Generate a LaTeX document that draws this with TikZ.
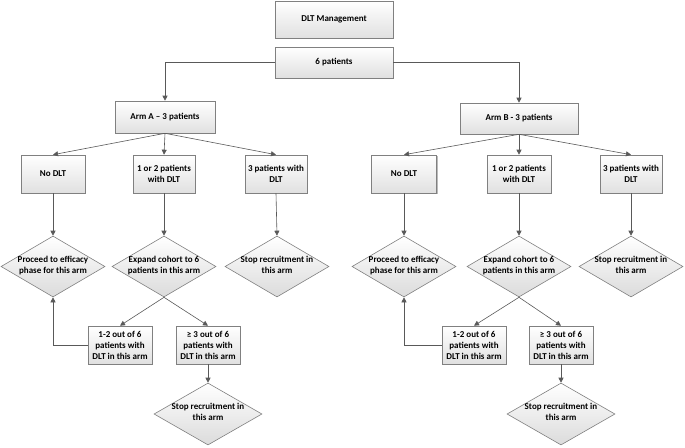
\documentclass[tikz,border=0pt]{standalone}
\usepackage{fontspec}
\setmainfont{Carlito}
\usetikzlibrary{shapes.geometric,shadows,arrows.meta}
\newcommand{\dtext}[1]{\raisebox{-2.5pt}{\smash{\makebox[0pt]{\begin{tabular}{@{}c@{}}#1\end{tabular}}}}}

\begin{document}
\begin{tikzpicture}[x=1pt,y=-1pt,>={Triangle[length=5pt,width=5pt]},
        font=\bfseries\fontsize{9}{11}\selectfont,
        box/.style={draw=black!50,line width=0.6pt,top color=white,bottom color=black!12,align=center,inner sep=1pt,
            drop shadow={shadow xshift=1.2pt,shadow yshift=-1.2pt,fill=black!45,opacity=.6}},
        dia/.style={diamond,draw=black!50,line width=0.6pt,top color=white,bottom color=black!14,inner sep=0pt,
            minimum width=104pt,minimum height=61pt},
        link/.style={draw=black!65,line width=0.6pt}]
            \useasboundingbox (0,0) rectangle (685,447);
            \node[box,minimum width=118pt,minimum height=37pt] (dlt) at (334,19.5) {DLT Management};
            \node[box,minimum width=118pt,minimum height=31pt] (six) at (334,62.5) {6 patients};
            \node[box,minimum width=100pt,minimum height=32pt] (armA) at (165,117) {Arm A – 3 patients};
            \node[box,minimum width=118pt,minimum height=31pt] (armB) at (519,118.5) {Arm B - 3 patients};

            \node[box,minimum width=64pt,minimum height=38pt] (noA) at (53,174) {No DLT};
            \node[box,minimum width=62pt,minimum height=38pt] (oneA) at (164,174) {1 or 2 patients\\with DLT};
            \node[box,minimum width=62pt,minimum height=38pt] (threeA) at (276,174) {3 patients with\\DLT};
            \node[dia] (proceedA) at (53,266.5) {\dtext{Proceed to efficacy\\phase for this arm}};
            \node[dia] (expandA) at (164,266.5) {\dtext{Expand cohort to 6\\patients in this arm}};
            \node[dia] (stopA) at (277,266.5) {\dtext{Stop recruitment in\\this arm}};
            \node[box,minimum width=64pt,minimum height=38pt] (lowA) at (120,345) {1-2 out of 6\\patients with\\DLT in this arm};
            \node[box,minimum width=64pt,minimum height=38pt] (highA) at (208,345) {≥ 3 out of 6\\patients with\\DLT in this arm};
            \node[dia,minimum width=108pt,minimum height=62pt] (endA) at (208,414) {\dtext{Stop recruitment in\\this arm}};

            \node[box,minimum width=65pt,minimum height=38pt] (noB) at (404,174) {No DLT};
            \node[box,minimum width=64pt,minimum height=38pt] (oneB) at (519,174) {1 or 2 patients\\with DLT};
            \node[box,minimum width=62pt,minimum height=38pt] (threeB) at (631,174) {3 patients with\\DLT};
            \node[dia] (proceedB) at (404,266.5) {\dtext{Proceed to efficacy\\phase for this arm}};
            \node[dia] (expandB) at (519,266.5) {\dtext{Expand cohort to 6\\patients in this arm}};
            \node[dia] (stopB) at (631,266.5) {\dtext{Stop recruitment in\\this arm}};
            \node[box,minimum width=64pt,minimum height=38pt] (lowB) at (474,345) {1-2 out of 6\\patients with\\DLT in this arm};
            \node[box,minimum width=64pt,minimum height=38pt] (highB) at (561,345) {≥ 3 out of 6\\patients with\\DLT in this arm};
            \node[dia,minimum width=108pt,minimum height=62pt] (endB) at (561,414) {\dtext{Stop recruitment in\\this arm}};

            \draw[link,->] (six.west) -| (armA.north);
            \draw[link,->] (six.east) -| (armB.north);
            \foreach \s in {A,B} {
                \draw[link,->] (arm\s.south) -- (no\s.north);
                \draw[link,->] (arm\s.south) -- (one\s.north);
                \draw[link,->] (arm\s.south) -- (three\s.north);
                \draw[link,->] (no\s.south) -- (proceed\s.north);
                \draw[link,->] (one\s.south) -- (expand\s.north);
                \draw[link,->] (three\s.south) -- (stop\s.north);
                \draw[link,->] (expand\s.south) -- (low\s.north);
                \draw[link,->] (expand\s.south) -- (high\s.north);
                \draw[link,->] (low\s.west) -| (proceed\s.south);
                \draw[link,->] (high\s.south) -- (end\s.north);
            }
        \end{tikzpicture}
\end{document}
